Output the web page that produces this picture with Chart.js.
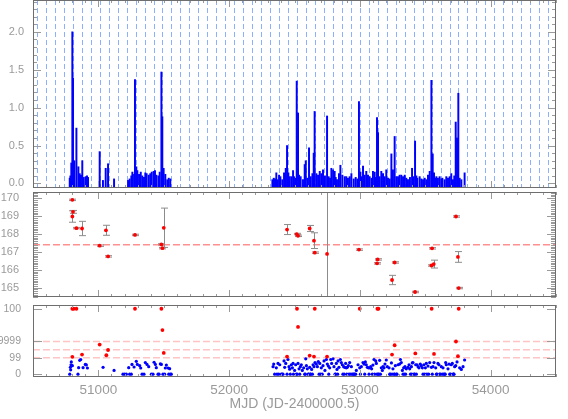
<!DOCTYPE html>
<html>
<head>
<meta charset="utf-8">
<script src="https://cdn.jsdelivr.net/npm/chart.js@4.4.1/dist/chart.umd.min.js"></script>
<style>
  html, body { margin: 0; padding: 0; background: #fff; }
  #wrap { position: relative; width: 568px; height: 419px; overflow: hidden; }
  .panel { position: absolute; left: 0; width: 568px; }
</style>
</head>
<body>
<div id="wrap">
  <div class="panel" style="top:0;height:188px"><canvas id="ampChart"></canvas></div>
  <div class="panel" style="top:188px;height:113px"><canvas id="perChart"></canvas></div>
  <div class="panel" style="top:301px;height:118px"><canvas id="sigChart"></canvas></div>
</div>
<script>
'use strict';

var X_MIN = 50500, X_MAX = 54500;
var X_TICKS = [51000, 52000, 53000, 54000];

// orbital ephemeris, light blue dashed lines in the top panel
var ORBIT_EPOCH = 50530;
var ORBIT_PERIOD = 68.6;

// top panel: pulsed amplitude per observation
var AMP_MJD = [
    50781, 50786, 50793, 50801, 50806, 50816, 50832, 50847, 50857, 50867, 50877, 50888, 50903, 50913, 50921,
    51010, 51035, 51056, 51074, 51120, 51227, 51239, 51252, 51260, 51273, 51280, 51290, 51298, 51311, 51324,
    51336, 51349, 51359, 51369, 51385, 51397, 51408, 51423, 51433, 51443, 51459, 51469, 51482, 51489, 51499,
    51512, 51527, 51538, 51550,
    52331, 52341, 52351, 52361, 52371, 52382, 52392, 52407, 52420, 52433, 52443, 52453, 52463, 52476, 52489,
    52496, 52507, 52517, 52527, 52535, 52547, 52565, 52578, 52586, 52598, 52611, 52624, 52637, 52647, 52654,
    52667, 52680, 52693, 52705, 52718, 52733, 52749, 52761, 52772, 52782, 52795, 52807, 52815, 52825, 52840,
    52851, 52866, 52884, 52896, 52909, 52922, 52935, 52953, 52968, 52981, 52993, 53004, 53011, 53024, 53037,
    53049, 53062, 53075, 53090, 53100, 53113, 53123, 53131, 53139, 53151, 53164, 53177, 53190, 53202, 53215,
    53228, 53241, 53253, 53266, 53279, 53292, 53304, 53317, 53330, 53343, 53355, 53368, 53383, 53399, 53409,
    53422, 53432, 53439, 53457, 53470, 53483, 53496, 53508, 53521, 53534, 53547, 53557, 53567, 53577, 53585,
    53597, 53610, 53623, 53631, 53648, 53661, 53674, 53687, 53699, 53712, 53722, 53733, 53743, 53753, 53763,
    53776, 53801
];
var AMP_VAL = [
    0.07, 0.10, 0.27, 2.00, 1.39, 0.30, 0.73, 0.22, 0.13, 0.11, 0.30, 0.08, 0.09, 0.10, 0.08,
    0.42, 0.04, 0.20, 0.26, 0.06, 0.04, 0.06, 0.10, 0.15, 0.12, 1.37, 0.22, 0.17, 0.12, 0.15,
    0.10, 0.08, 0.14, 0.13, 0.11, 0.13, 0.15, 0.16, 0.17, 0.11, 0.10, 0.15, 1.47, 0.88, 0.20,
    0.12, 0.05, 0.07, 0.06,
    0.05, 0.07, 0.06, 0.14, 0.05, 0.11, 0.09, 0.05, 0.14, 0.20, 0.50, 0.14, 0.09, 0.09, 0.17,
    0.09, 0.07, 1.35, 0.93, 0.11, 0.09, 0.05, 0.25, 0.30, 0.07, 0.47, 0.09, 0.13, 0.40, 0.95,
    0.13, 0.11, 0.16, 0.13, 0.18, 0.10, 0.89, 0.09, 0.07, 0.20, 0.18, 0.16, 0.08, 0.05, 0.13,
    0.24, 0.11, 0.09, 0.09, 0.07, 0.09, 0.13, 0.06, 0.08, 0.06, 1.08, 0.15, 0.09, 0.23, 0.11,
    0.16, 0.11, 0.09, 0.07, 0.16, 0.15, 0.08, 0.87, 0.67, 0.09, 0.16, 0.13, 0.09, 0.18, 0.07,
    0.06, 0.39, 0.18, 0.62, 0.09, 0.09, 0.11, 0.11, 0.09, 0.11, 0.07, 0.05, 0.08, 0.20, 0.09,
    0.56, 0.10, 0.07, 0.09, 0.06, 0.05, 0.07, 0.05, 0.11, 0.16, 1.36, 0.39, 0.14, 0.07, 0.09,
    0.07, 0.09, 0.06, 0.07, 0.05, 0.09, 0.07, 0.09, 0.13, 0.05, 0.10, 0.81, 0.60, 1.19, 0.07,
    0.05, 0.14
];
var AMP_TICKS = [0, 0.5, 1.0, 1.5, 2.0];

// middle panel: pulse period with errors
var PER_MJD = [50801, 50806, 50801, 50832, 50875, 51010, 51058, 51074, 51280, 51482, 51490, 51500,
    52443, 52517, 52527, 52616, 52649, 52655, 52749, 52993, 53136, 53131, 53266, 53246, 53422,
    53552, 53565, 53547, 53735, 53750, 53756];
var PER_VAL = [169.91, 169.24, 168.98, 168.33, 168.31, 167.35, 168.21, 166.75, 167.95, 167.42, 167.21, 168.35,
    168.25, 168.00, 167.90, 168.31, 167.63, 166.96, 166.89, 167.13, 166.58, 166.36, 166.41, 165.43, 164.76,
    167.20, 166.32, 166.24, 168.98, 166.72, 164.98];
var PER_ERR = [0.04, 0.08, 0.32, 0.04, 0.40, 0.04, 0.28, 0.04, 0.04, 0.04, 0.04, 1.10,
    0.28, 0.04, 0.04, 0.17, 0.44, 0.04, 6.00, 0.04, 0.04, 0.04, 0.04, 0.26, 0.04,
    0.04, 0.22, 0.04, 0.04, 0.30, 0.04];
var PER_REF = 167.4;
var PER_TICKS = [165, 166, 167, 168, 169, 170];

// bottom panel: detection significance (axis rows 0, 99, 9999, 100)
var SIG_TICKS = [0, 1, 2, 4];
var SIG_LABELS = ['0', '99', '9999', '100'];
var SIG_LEVELS = [1, 1.5, 2];
var SIG_RED_MJD = [50801, 50811, 50832, 50801, 50875, 51010, 51061, 51074, 51280, 51482, 51490, 51500,
    52443, 52519, 52527, 52616, 52649, 52655, 52749, 52999, 53134, 53142, 53246, 53266, 53424,
    53549, 53567, 53735, 53750, 53756];
var SIG_RED_VAL = [4, 4, 4, 1.06, 1.2, 1.81, 1.16, 1.48, 4, 4, 2.7, 1.3,
    1.08, 4, 2.89, 1.14, 1.08, 4, 1.08, 4, 4, 4, 1.2, 1.77, 1.27,
    4, 1.24, 2.0, 1.1, 4];
var SIG_BLUE_MJD = [
    50781, 50786, 50788, 50791, 50793, 50801, 50844, 50849, 50857, 50865, 50883, 50900, 50908, 50916, 51036,
    51120, 51188, 51201, 51214, 51232, 51239, 51252, 51257, 51273, 51290, 51298, 51316, 51324, 51334, 51349,
    51359, 51372, 51385, 51405, 51418, 51426, 51436, 51443, 51456, 51464, 51474, 51482, 51494, 51507, 51512,
    51520, 51533, 51545, 51538, 51550, 51558,
    52336, 52341, 52348, 52361, 52374, 52387, 52399, 52412, 52420, 52425, 52433, 52443, 52450, 52458, 52463,
    52468, 52476, 52484, 52489, 52501, 52509, 52514, 52527, 52535, 52545, 52552, 52560, 52570, 52578, 52586,
    52591, 52598, 52609, 52616, 52624, 52631, 52642, 52649, 52657, 52667, 52675, 52682, 52693, 52700, 52705,
    52718, 52726, 52733, 52744, 52751, 52759, 52769, 52777, 52784, 52795, 52802, 52810, 52820, 52825, 52833,
    52840, 52851, 52858, 52866, 52876, 52884, 52891, 52896, 52904, 52912, 52922, 52927, 52935, 52948, 52960,
    52973, 52986, 52999, 53011, 53024, 53032, 53042, 53049, 53057, 53065, 53075, 53083, 53090, 53100, 53108,
    53121, 53126, 53139, 53151, 53164, 53172, 53177, 53185, 53192, 53202, 53210, 53223, 53228, 53241, 53253,
    53261, 53271, 53279, 53292, 53304, 53310, 53317, 53325, 53335, 53345, 53355, 53368, 53376, 53381, 53394,
    53401, 53406, 53419, 53427, 53437, 53445, 53452, 53462, 53470, 53478, 53483, 53490, 53501, 53508, 53521,
    53534, 53547, 53554, 53559, 53567, 53580, 53590, 53597, 53605, 53610, 53623, 53636, 53648, 53656, 53661,
    53674, 53682, 53694, 53699, 53707, 53717, 53725, 53733, 53743, 53763, 53776, 53789, 53801,
    52366, 52379, 52405, 52492, 52520, 52540, 52583, 52604, 52620, 52637, 52688, 52712, 52762, 52815, 52830,
    52870, 52880, 52900, 52917, 52940, 52955, 52968, 53004, 53037, 53070, 53095, 53113, 53131, 53146, 53157,
    53233, 53246, 53266, 53284, 53330, 53340, 53350, 53387, 53397, 53414, 53432, 53496, 53513, 53526, 53585,
    53615, 53630, 53641, 53653, 53687, 53712, 53720
];
var SIG_BLUE_VAL = [
    0, 0.42, 0.27, 0.58, 0.75, 0.52, 0, 0.40, 0.85, 0.90, 0.40, 0.60, 0.57, 0.38, 0.42,
    0.23, 0, 0, 0, 0.40, 0, 0, 0.60, 0.44, 0.79, 0.60, 0.52, 0.38, 0, 0,
    0.71, 0.60, 0.46, 0, 0, 0.73, 0.60, 0.40, 0, 0, 0.63, 0.60, 0, 0, 0.38,
    0.56, 0.38, 0.34, 0, 0, 0,
    0.46, 0.62, 0, 0.39, 0.66, 0.58, 0, 0, 0.81, 0.42, 0.66, 0, 0.90, 0.46, 0.31,
    0, 0.58, 0.39, 0.66, 0.23, 0.58, 0, 0.66, 0.33, 0.46, 0.58, 0.23, 0.39, 0, 0.94,
    0.52, 0.33, 0, 0.42, 0, 0.29, 0.58, 0.46, 0.71, 0.62, 0.46, 0.77, 0.66, 0, 0.39,
    0.52, 0.81, 0.23, 0.90, 0.62, 0.50, 0.39, 0.90, 0.66, 0.94, 0.46, 0, 0.66, 0.29, 0.81,
    0.42, 0.90, 0.71, 0.58, 0.46, 0.42, 0.66, 0.39, 0.42, 0.52, 0.71, 0, 0.46, 0, 0,
    0.23, 0.58, 0.39, 0.46, 0.71, 0.62, 0.75, 0.58, 0.42, 0.39, 0.39, 0.46, 0.33, 0.56, 0.90,
    0.81, 0.66, 0, 0.85, 0.39, 0.23, 0.46, 0.39, 0.62, 0.87, 0.46, 0.39, 0, 0.69, 0.33,
    0, 0.52, 0, 0.58, 0.62, 0.90, 0.71, 0.23, 0.39, 0.46, 0.33, 0.42, 0.58, 0.33, 0.46,
    0.69, 0.71, 0, 0.58, 0.58, 0.46, 0.39, 0.62, 0.52, 0.39, 0, 0.58, 0.39, 0.66, 0.50,
    0.71, 0.42, 0, 0.46, 0.71, 0.39, 0, 0.66, 0.58, 0, 0.46, 0.39, 0, 0.71, 0.58,
    0.33, 0.62, 0, 0.58, 0.66, 0, 0.46, 0.52, 0.75, 0.39, 0.29, 0.46, 0.87,
    0, 0, 0, 0, 0, 0, 0, 0, 0, 0, 0, 0, 0, 0, 0,
    0, 0, 0, 0, 0, 0, 0, 0, 0, 0, 0, 0, 0, 0, 0,
    0, 0, 0, 0, 0, 0, 0, 0, 0, 0, 0, 0, 0, 0, 0,
    0, 0, 0, 0, 0, 0, 0
];

var TEXT = '#9a9a9a';
var TICK = '#9a9a9a';
var FRAME = '#6e6e6e';
var FONT = "'Liberation Sans', Arial, sans-serif";

function pts(xs, ys) {
    return xs.map(function (x, i) { return {x: x, y: ys[i]}; });
}

// IDL-like frame: inward ticks on all sides, dashed guides, error bars
function idlFrame(cfg) {
    return {
        id: 'idlFrame',
        beforeDatasetsDraw: function (chart) {
            var ctx = chart.ctx, a = chart.chartArea, x = chart.scales.x, y = chart.scales.y;
            ctx.save();
            ctx.beginPath();
            ctx.rect(a.left, a.top, a.right - a.left, a.bottom - a.top);
            ctx.clip();
            ctx.lineWidth = 1;
            if (cfg.orbits) {
                ctx.strokeStyle = '#8cb0ff';
                ctx.setLineDash([5, 3]);
                for (var k = 0; ORBIT_EPOCH + k * ORBIT_PERIOD < X_MAX; k++) {
                    var px = Math.round(x.getPixelForValue(ORBIT_EPOCH + k * ORBIT_PERIOD)) + 0.5;
                    ctx.beginPath();
                    ctx.moveTo(px, a.top);
                    ctx.lineTo(px, a.bottom);
                    ctx.stroke();
                }
            }
            (cfg.refLines || []).forEach(function (v) {
                ctx.strokeStyle = cfg.refColor;
                ctx.lineWidth = 1.5;
                ctx.setLineDash([7, 3]);
                var py = y.getPixelForValue(v);
                ctx.beginPath();
                ctx.moveTo(a.left, py);
                ctx.lineTo(a.right, py);
                ctx.stroke();
            });
            ctx.lineWidth = 1;
            ctx.setLineDash([]);
            chart.data.datasets.forEach(function (ds) {
                if (!ds.errorBars) return;
                ctx.strokeStyle = '#8c8c8c';
                ds.data.forEach(function (d, i) {
                    var e = ds.errorBars[i];
                    var px = Math.round(x.getPixelForValue(d.x)) + 0.5;
                    var y1 = y.getPixelForValue(d.y - e), y2 = y.getPixelForValue(d.y + e);
                    ctx.beginPath();
                    ctx.moveTo(px, y1); ctx.lineTo(px, y2);
                    ctx.moveTo(px - 3.5, y1); ctx.lineTo(px + 3.5, y1);
                    ctx.moveTo(px - 3.5, y2); ctx.lineTo(px + 3.5, y2);
                    ctx.stroke();
                });
            });
            ctx.restore();
        },
        afterDraw: function (chart) {
            var ctx = chart.ctx, a = chart.chartArea, x = chart.scales.x, y = chart.scales.y;
            ctx.save();
            ctx.lineWidth = 1;
            ctx.strokeStyle = TICK;
            ctx.beginPath();
            for (var t = X_MIN; t <= X_MAX; t += 100) {
                var px = Math.round(x.getPixelForValue(t)) + 0.5;
                var len = t % 1000 === 0 ? 7 : 3;
                ctx.moveTo(px, a.bottom); ctx.lineTo(px, a.bottom - len);
                ctx.moveTo(px, a.top); ctx.lineTo(px, a.top + len);
            }
            function yTick(v, len) {
                var py = Math.round(y.getPixelForValue(v)) + 0.5;
                ctx.moveTo(a.left, py); ctx.lineTo(a.left + len, py);
                ctx.moveTo(a.right, py); ctx.lineTo(a.right - len, py);
            }
            if (cfg.minorStep) {
                for (var k = 0; ; k++) {
                    var v = cfg.minorFrom + k * cfg.minorStep;
                    if (v > y.max) break;
                    if (v >= y.min) yTick(v, cfg.minorLen);
                }
            }
            cfg.major.forEach(function (v) { yTick(v, cfg.majorLen); });
            ctx.stroke();
            ctx.strokeStyle = FRAME;
            ctx.strokeRect(a.left + 0.5, a.top + 0.5, a.right - a.left - 1, a.bottom - a.top - 1);
            ctx.restore();
        }
    };
}

function noPad(s) {
    s.paddingTop = 0;
    s.paddingBottom = 0;
    s.paddingLeft = 0;
    s.paddingRight = 0;
}

function yScale(min, max, ticks, pad, size, fmt) {
    return {
        min: min,
        max: max,
        afterFit: function (s) { s.width = 33; noPad(s); },
        afterBuildTicks: function (s) { s.ticks = ticks.map(function (v) { return {value: v}; }); },
        grid: {display: false, drawTicks: false},
        border: {display: false},
        ticks: {color: TEXT, font: {family: FONT, size: size}, padding: pad, callback: fmt}
    };
}

var hiddenX = {type: 'linear', min: X_MIN, max: X_MAX, offset: false, display: false,
    afterFit: function (s) { s.height = 0; noPad(s); }};

var common = {
    responsive: true,
    maintainAspectRatio: false,
    animation: false,
    events: [],
    layout: {padding: {top: 0, right: 12, bottom: 0, left: 0}},
    plugins: {legend: {display: false}, tooltip: {enabled: false}}
};

new Chart(document.getElementById('ampChart'), {
    type: 'bar',
    data: {
        datasets: [{
            data: pts(AMP_MJD, AMP_VAL),
            backgroundColor: '#0000ff',
            borderWidth: 0,
            barThickness: 1.3,
            base: -0.06
        }]
    },
    options: Object.assign({}, common, {
        scales: {
            x: hiddenX,
            y: yScale(-0.06, 2.42, AMP_TICKS, 9, 11, function (v) { return v.toFixed(1); })
        }
    }),
    plugins: [idlFrame({orbits: true, major: AMP_TICKS, majorLen: 8,
        minorFrom: 0, minorStep: 0.1, minorLen: 4})]
});

new Chart(document.getElementById('perChart'), {
    type: 'scatter',
    data: {
        datasets: [{
            data: pts(PER_MJD, PER_VAL),
            errorBars: PER_ERR,
            backgroundColor: '#ff0000',
            borderWidth: 0,
            pointRadius: 1.9
        }]
    },
    options: Object.assign({}, common, {
        scales: {
            x: hiddenX,
            y: yScale(164.48, 170.35, PER_TICKS, 14, 11, function (v) { return String(v); })
        }
    }),
    plugins: [idlFrame({refLines: [PER_REF], refColor: '#ff9090', major: PER_TICKS, majorLen: 9,
        minorFrom: 164.5, minorStep: 0.1, minorLen: 5})]
});

new Chart(document.getElementById('sigChart'), {
    type: 'scatter',
    data: {
        datasets: [{
            data: pts(SIG_RED_MJD, SIG_RED_VAL),
            backgroundColor: '#ff0000',
            borderWidth: 0,
            pointRadius: 1.9,
            order: 0
        }, {
            data: pts(SIG_BLUE_MJD, SIG_BLUE_VAL),
            backgroundColor: '#0000ff',
            borderWidth: 0,
            pointRadius: 1.6,
            order: 1
        }]
    },
    options: Object.assign({}, common, {
        scales: {
            x: {
                type: 'linear',
                min: X_MIN,
                max: X_MAX,
                offset: false,
                afterFit: function (s) { s.height = 42; noPad(s); },
                afterBuildTicks: function (s) { s.ticks = X_TICKS.map(function (v) { return {value: v}; }); },
                grid: {display: false, drawTicks: false},
                border: {display: false},
                ticks: {color: TEXT, font: {family: FONT, size: 13.5}, padding: 5, maxRotation: 0,
                    autoSkip: false, callback: function (v) { return String(v); }},
                title: {display: true, text: 'MJD (JD-2400000.5)', color: TEXT,
                    font: {family: FONT, size: 14}, padding: {top: 0, bottom: 6}}
            },
            y: yScale(-0.17, 4.23, SIG_TICKS, 12, 10.5, function (v) { return SIG_LABELS[SIG_TICKS.indexOf(v)]; })
        }
    }),
    plugins: [idlFrame({refLines: SIG_LEVELS, refColor: '#ffc4c4', major: SIG_TICKS, majorLen: 9})]
});
</script>
</body>
</html>
